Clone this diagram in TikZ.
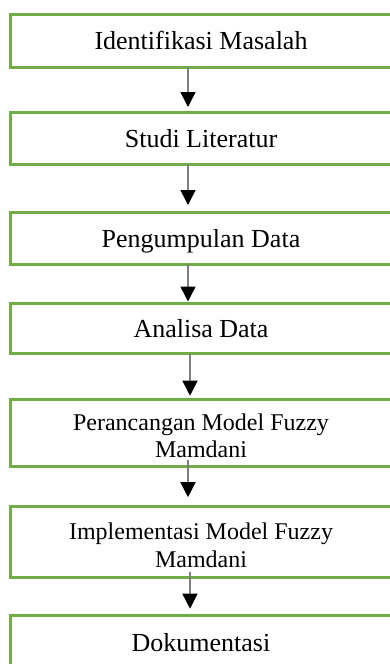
\documentclass[tikz,border=0pt]{standalone}
\usepackage{fontspec}
\setmainfont{Liberation Serif}
\usetikzlibrary{arrows.meta, positioning}
\definecolor{stepgreen}{RGB}{112,173,71}

\begin{document}
\begin{tikzpicture}[
            x=1pt, y=-1pt,
            node distance=45pt,
            stepbox/.style={rectangle, draw=stepgreen, line width=3pt, outer sep=0pt, inner sep=0pt, minimum width=381pt, minimum height=52.5pt, text height=18pt, text depth=0pt, font=\fontsize{26}{30}\selectfont},
            longbox/.style={stepbox, align=center, text height=50pt, text depth=0pt, font=\fontsize{24}{27.5}\selectfont},
            line/.style={draw=black!50, line width=1.5pt, -{Triangle[length=15pt, width=15pt, black]}}
        ]
            \useasboundingbox (0,0) rectangle (390,664);
            \clip (0,0) rectangle (390,664);
            % Nodes
            \node [stepbox, anchor=north west] (identifikasi) at (10.5,14.5) {Identifikasi Masalah};
            \node [stepbox, below=45pt of identifikasi, minimum height=52pt] (studi) {Studi Literatur};
            \node [stepbox, below=48pt of studi, minimum height=52pt] (pengumpulan) {Pengumpulan Data};
            \node [stepbox, below=39pt of pengumpulan, minimum height=50.7pt] (analisa) {Analisa Data};
            \node [longbox, below=45.5pt of analisa, minimum height=67.5pt] (perancangan) {Perancangan Model Fuzzy\\Mamdani};
            \node [longbox, below=40pt of perancangan, minimum height=71pt] (implementasi) {Implementasi Model Fuzzy\\Mamdani};
            \node [stepbox, below=38pt of implementasi, minimum height=53pt] (dokumentasi) {Dokumentasi};

            % Edges
            \path [line, shorten >=5pt] ([xshift=-13pt]identifikasi.south) -- ([xshift=-13pt]studi.north);
            \path [line, shorten >=7pt] ([xshift=-13pt]studi.south) -- ([xshift=-13pt]pengumpulan.north);
            \path [line, shorten >=1.5pt] ([xshift=-13pt]pengumpulan.south) -- ([xshift=-13pt]analisa.north);
            \path [line, shorten >=3.5pt] ([xshift=-11pt]analisa.south) -- ([xshift=-11pt]perancangan.north);
            \path [line, shorten <=-7pt, shorten >=9.5pt] ([xshift=-13pt]perancangan.south) -- ([xshift=-13pt]implementasi.north);
            \path [line, shorten <=-6pt, shorten >=7pt] ([xshift=-11pt]implementasi.south) -- ([xshift=-11pt]dokumentasi.north);
        \end{tikzpicture}
\end{document}
